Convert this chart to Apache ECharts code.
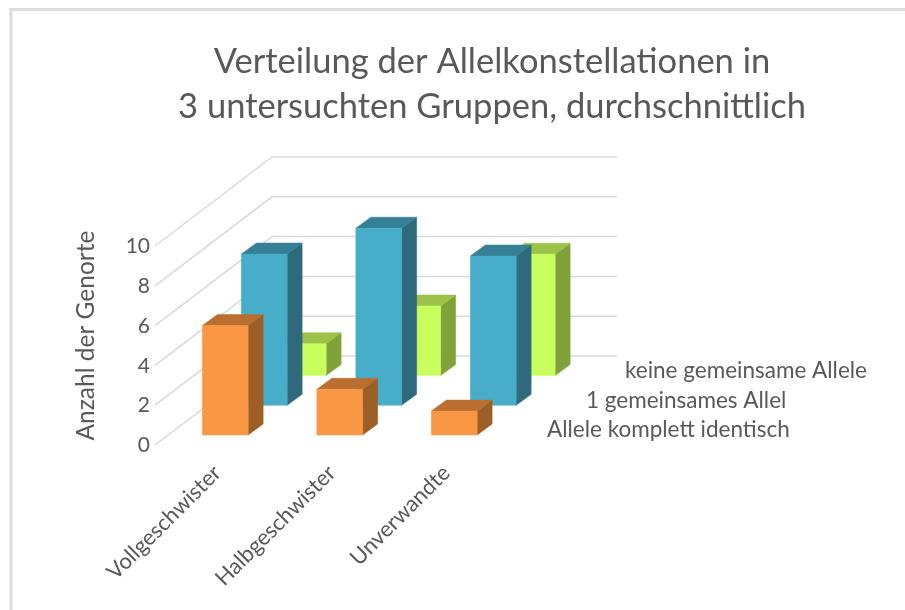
<!DOCTYPE html>
<html>
<head>
<meta charset="utf-8">
<style>
html, body { margin: 0; padding: 0; background: #fff; }
#main { width: 905px; height: 610px; }
</style>
<script src="https://cdn.jsdelivr.net/npm/echarts@6/dist/echarts.min.js"></script>
</head>
<body>
<div id="main"></div>
<script>
var groups = ['Vollgeschwister', 'Halbgeschwister', 'Unverwandte'];
var depthNames = ['Allele komplett identisch', '1 gemeinsames Allel', 'keine gemeinsame Allele'];
var identisch = [5.5, 2.3, 1.2];
var einAllel = [7.6, 8.9, 7.5];
var keinAllel = [1.6, 3.5, 6.1];
var ticks = [0, 2, 4, 6, 8, 10];

// fake 3d: every depth row is shifted by these pixels
var rowX = 39, rowY = -29.7;
var barDepthX = 15, barDepthY = -11;
var wallFrontX = -13, wallFrontY = 10;
var wallBackX = 104, wallBackY = -79;
var wallRightExtra = 1.5;
var barRatio = 0.4;
var textColor = '#595959';
var font = 'Lato';

var colors = [
    { face: '#F99745', side: '#9D5F28', top: '#BA6F30' },
    { face: '#47ADC8', side: '#2F6A7C', top: '#357F97' },
    { face: '#C8FF5F', side: '#80A23A', top: '#9CC24A' }
];

function barSeries(values, row) {
    return {
        type: 'custom',
        data: values.map(function (v, i) { return [i, v]; }),
        renderItem: function (params, api) {
            var base = api.coord([api.value(0), 0]);
            var head = api.coord([api.value(0), api.value(1)]);
            var w = api.size([1, 0])[0] * barRatio;
            var x0 = base[0] - w / 2 + rowX * row;
            var x1 = x0 + w;
            var y0 = base[1] + rowY * row;
            var y1 = head[1] + rowY * row;
            var c = colors[row];
            function face(points, color) {
                return {
                    type: 'polygon',
                    shape: { points: points },
                    style: { fill: color, stroke: color, lineWidth: 0.5 }
                };
            }
            return {
                type: 'group',
                children: [
                    face([[x1, y1], [x1 + barDepthX, y1 + barDepthY], [x1 + barDepthX, y0 + barDepthY], [x1, y0]], c.side),
                    face([[x0, y1], [x0 + barDepthX, y1 + barDepthY], [x1 + barDepthX, y1 + barDepthY], [x1, y1]], c.top),
                    face([[x0, y1], [x1, y1], [x1, y0], [x0, y0]], c.face)
                ]
            };
        }
    };
}

var wallSeries = {
    type: 'custom',
    data: ticks.map(function (t) { return [0, t]; }),
    renderItem: function (params, api) {
        var p = api.coord([0, api.value(1)]);
        var band = api.size([1, 0])[0];
        var left = p[0] - band / 2;
        return {
            type: 'polyline',
            shape: {
                points: [
                    [left + wallFrontX, p[1] + wallFrontY],
                    [left + wallBackX, p[1] + wallBackY],
                    [left + wallBackX + band * groups.length + wallRightExtra, p[1] + wallBackY]
                ]
            },
            style: { fill: null, stroke: '#D9D9D9', lineWidth: 1.5 }
        };
    }
};

var depthLabelSeries = {
    type: 'custom',
    data: depthNames.map(function (n, i) { return [groups.length - 1, 0, i]; }),
    renderItem: function (params, api) {
        var p = api.coord([api.value(0), 0]);
        var band = api.size([1, 0])[0];
        var row = api.value(2);
        return {
            type: 'text',
            style: {
                x: p[0] + band / 2 + 35.5 + rowX * row,
                y: p[1] - 5 + rowY * row,
                text: depthNames[row],
                fill: textColor,
                font: '22.5px ' + font,
                textAlign: 'left',
                textVerticalAlign: 'middle'
            }
        };
    }
};

var myChart = echarts.init(document.getElementById('main'));
var option = {
    animation: false,
    title: {
        text: 'Verteilung der Allelkonstellationen in\n3 untersuchten Gruppen, durchschnittlich',
        left: 487,
        top: 34,
        textAlign: 'center',
        textStyle: {
            color: textColor,
            fontFamily: font,
            fontSize: 34.5,
            fontWeight: 'normal',
            lineHeight: 45
        }
    },
    graphic: [
        {
            type: 'polyline',
            shape: { points: [[11, 610], [11, 9.5], [905, 9.5]] },
            style: { fill: null, stroke: '#DCDCDC', lineWidth: 3 }
        }
    ],
    grid: { left: 168, top: 236, width: 343.5, height: 199 },
    xAxis: {
        type: 'category',
        data: groups,
        axisLine: { show: false },
        axisTick: { show: false },
        axisLabel: {
            interval: 0,
            rotate: 45,
            margin: 42,
            verticalAlign: 'bottom',
            color: textColor,
            fontFamily: font,
            fontSize: 22
        }
    },
    yAxis: {
        type: 'value',
        min: 0,
        max: 10,
        interval: 2,
        name: 'Anzahl der Genorte',
        nameLocation: 'middle',
        nameGap: 69,
        nameTextStyle: { color: textColor, fontFamily: font, fontSize: 24.5 },
        axisLine: { show: false },
        axisTick: { show: false },
        splitLine: { show: false },
        axisLabel: {
            margin: 18,
            verticalAlign: 'top',
            color: textColor,
            fontFamily: font,
            fontSize: 21
        }
    },
    series: [
        wallSeries,
        barSeries(keinAllel, 2),
        barSeries(einAllel, 1),
        barSeries(identisch, 0),
        depthLabelSeries
    ]
};
myChart.setOption(option);
</script>
</body>
</html>
